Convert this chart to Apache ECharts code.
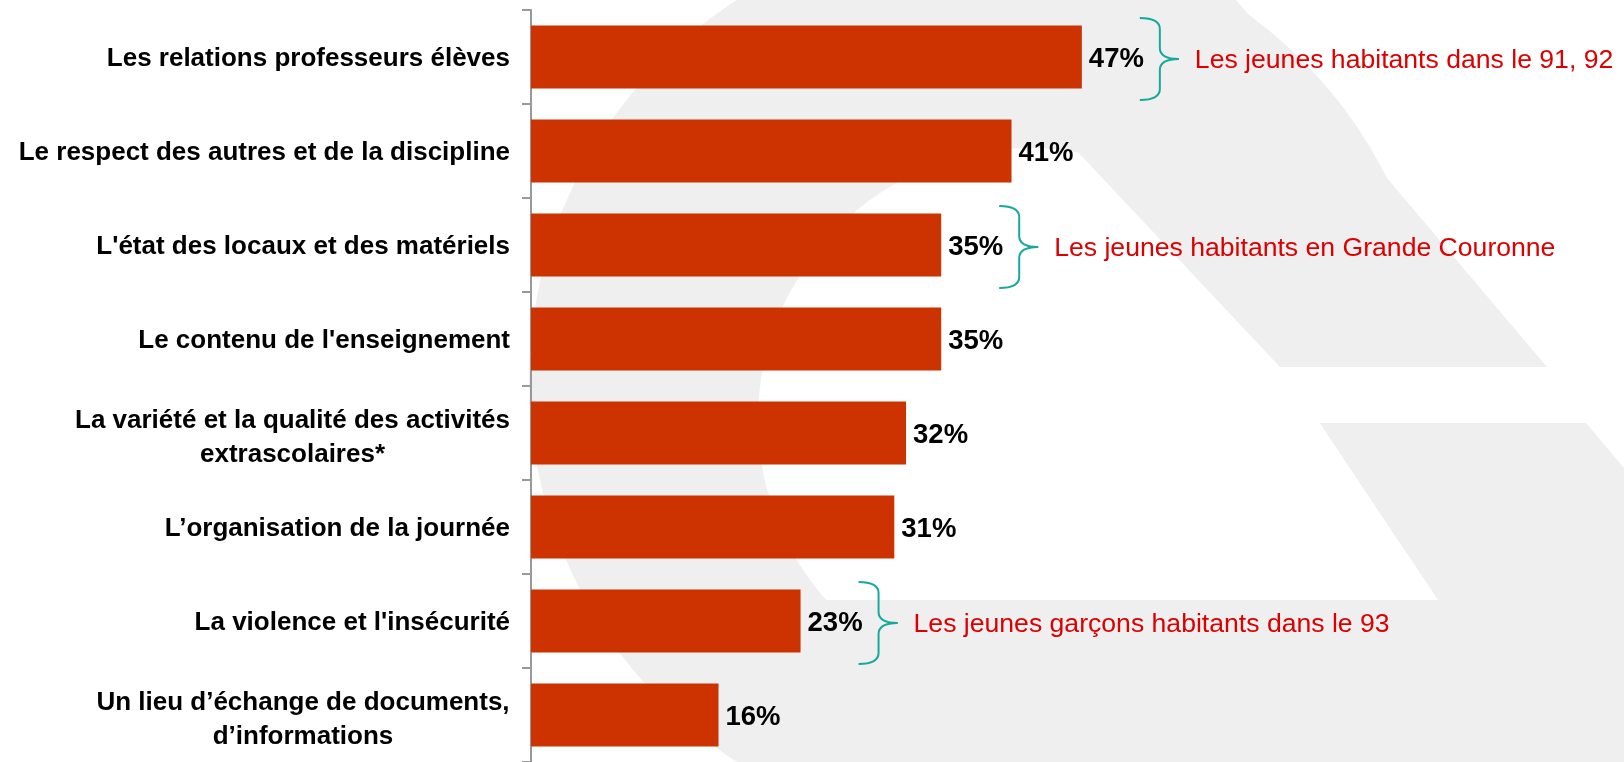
<!DOCTYPE html>
<html lang="fr">
<head>
<meta charset="utf-8">
<title>Attentes vis-à-vis de l'établissement</title>
<script src="https://cdn.jsdelivr.net/npm/echarts@6/dist/echarts.min.js"></script>
<style>
  html, body { margin: 0; padding: 0; background: #fff; }
  #chart { width: 1624px; height: 762px; }
</style>
</head>
<body>
<div id="chart"></div>
<script>
// données
const categories = [
  'Les relations professeurs élèves',
  'Le respect des autres et de la discipline',
  "L'état des locaux et des matériels",
  "Le contenu de l'enseignement",
  'La variété et la qualité des activités\nextrascolaires*',
  'L’organisation de la journée',
  "La violence et l'insécurité",
  'Un lieu d’échange de documents,\nd’informations'
]
const values = [47, 41, 35, 35, 32, 31, 23, 16]

// accolades + commentaires en rouge
const noteIndex = [0, 2, 6]
const noteText = [
  'Les jeunes habitants dans le 91, 92',
  'Les jeunes habitants en Grande Couronne',
  'Les jeunes garçons habitants dans le 93'
]

const FONT = '"Liberation Sans", Arial, Helvetica, sans-serif'
const BAR = '#cc3300'
const NOTE_RED = '#dc0000'
const BRACE = '#17a99b'
const GRAY = '#efefef'

// largeur des libellés sur deux lignes (pour centrer chaque ligne)
const ctx = document.createElement('canvas').getContext('2d')
ctx.font = 'bold 26px ' + FONT
const rich = {}
categories.forEach((c, i) => {
  const lines = c.split('\n')
  if (lines.length > 1) {
    rich['c' + i] = {
      width: Math.ceil(Math.max(...lines.map((l) => ctx.measureText(l).width))),
      align: 'center',
      fontSize: 26,
      fontWeight: 'bold',
      fontFamily: FONT,
      color: '#000',
      lineHeight: 34
    }
  }
})

// libellés sur deux lignes un peu plus bas que les autres
const axisData = categories.map((c) => ({
  value: c,
  textStyle: { padding: c.indexOf('\n') < 0 ? [4, 0, 0, 0] : [10, 0, 0, 0] }
}))

const noteData = noteIndex.map((idx, k) => [values[idx], idx, noteText[k]])

function renderNote(params, api) {
  const pt = api.coord([api.value(0), api.value(1)])
  const x0 = pt[0] + 78
  const yc = pt[1] + 2
  const h = 41
  const r = 11
  const lineStyle = { stroke: BRACE, lineWidth: 2, fill: null }
  return {
    type: 'group',
    children: [
      { type: 'bezierCurve', shape: { x1: x0 - 20, y1: yc - h, cpx1: x0, cpy1: yc - h, x2: x0, y2: yc - h + r }, style: lineStyle },
      { type: 'line', shape: { x1: x0, y1: yc - h + r, x2: x0, y2: yc - r }, style: lineStyle },
      { type: 'bezierCurve', shape: { x1: x0, y1: yc - r, cpx1: x0, cpy1: yc, x2: x0 + 19, y2: yc }, style: lineStyle },
      { type: 'bezierCurve', shape: { x1: x0 + 19, y1: yc, cpx1: x0, cpy1: yc, x2: x0, y2: yc + r }, style: lineStyle },
      { type: 'line', shape: { x1: x0, y1: yc + r, x2: x0, y2: yc + h - r }, style: lineStyle },
      { type: 'bezierCurve', shape: { x1: x0, y1: yc + h - r, cpx1: x0, cpy1: yc + h, x2: x0 - 20, y2: yc + h }, style: lineStyle },
      {
        type: 'text',
        style: {
          text: api.value(2),
          x: x0 + 35,
          y: pt[1] + 4,
          fill: NOTE_RED,
          font: '26.6px ' + FONT,
          verticalAlign: 'middle',
          align: 'left'
        }
      }
    ]
  }
}

const chart = echarts.init(document.getElementById('chart'), null, { renderer: 'canvas' })

chart.setOption({
  backgroundColor: '#fff',
  animation: false,
  // filigrane gris en fond
  graphic: [
    { type: 'circle', z: -10, silent: true, shape: { cx: 982, cy: 381, r: 453 }, style: { fill: GRAY } },
    { type: 'circle', z: -10, silent: true, shape: { cx: 1030, cy: 420, r: 272 }, style: { fill: '#fff' } },
    { type: 'polygon', z: -10, silent: true, shape: { points: [[1000, 367], [1624, 367], [1624, 423], [1320, 423], [1438, 600], [1000, 600]] }, style: { fill: '#fff' } },
    { type: 'polygon', z: -10, silent: true, shape: { points: [[935, 0], [1236, 0], [1547, 367], [1280, 367]] }, style: { fill: GRAY } },
    { type: 'polygon', z: -10, silent: true, shape: { points: [[1320, 423], [1586, 423], [1624, 468], [1624, 762], [760, 762], [760, 600], [1438, 600]] }, style: { fill: GRAY } }
  ],
  grid: { left: 531, top: 10, width: 586, height: 752, containLabel: false },
  xAxis: {
    type: 'value',
    min: 0,
    max: 50,
    show: false
  },
  yAxis: {
    type: 'category',
    inverse: true,
    data: axisData,
    axisLine: { lineStyle: { color: '#999999', width: 2 } },
    axisTick: { show: true, length: 9, lineStyle: { color: '#999999', width: 2 } },
    axisLabel: {
      interval: 0,
      margin: 21,
      color: '#000',
      fontSize: 26,
      fontWeight: 'bold',
      fontFamily: FONT,
      lineHeight: 34,
      align: 'right',
      formatter: (value, idx) => {
        if (value.indexOf('\n') < 0) return value
        return value.split('\n').map((l) => '{c' + idx + '|' + l + '}').join('\n')
      },
      rich: rich
    },
    splitLine: { show: false }
  },
  series: [
    {
      type: 'bar',
      data: values,
      barCategoryGap: '33%',
      itemStyle: { color: BAR },
      label: {
        show: true,
        position: 'right',
        distance: 7,
        offset: [0, 2],
        formatter: '{c}%',
        color: '#000',
        fontSize: 27.5,
        fontWeight: 'bold',
        fontFamily: FONT
      }
    },
    {
      type: 'custom',
      clip: false,
      silent: true,
      data: noteData,
      encode: { x: 0, y: 1 },
      renderItem: renderNote,
      z: 5
    }
  ]
})
</script>
</body>
</html>
